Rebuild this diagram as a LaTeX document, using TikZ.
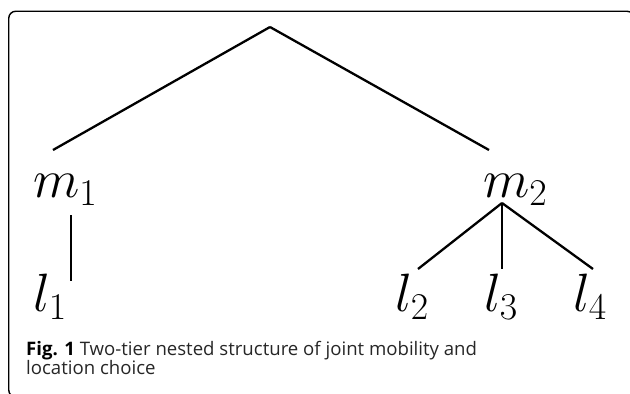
\RequirePackage{fix-cm}
\documentclass[tikz,border=0pt]{standalone}
\usepackage{fontspec}
\setsansfont{Open Sans}
\begin{document}
\begin{tikzpicture}[x=1pt,y=-1pt,
  edge/.style={line width=2.3pt},
  lbl/.style={inner sep=0pt, anchor=base west, font=\fontsize{54}{60}\selectfont},
  captext/.style={inner sep=0pt, anchor=base west, text=black!85, font=\sffamily\fontsize{18.6}{20}\selectfont}]
\useasboundingbox (0,0) rectangle (630,394);
\begin{scope}
\clip (0,0) rectangle (630,394);
\draw[line width=1.4pt, rounded corners=7pt] (8.75,11.25) rectangle (634,397);
\end{scope}
% labels
\node[lbl] (m1) at (33,197) {$m_1$};
\node[lbl] (m2) at (483,197) {$m_2$};
\node[lbl] (l1) at (33,311) {$l_1$};
\node[lbl] (l2) at (395,311) {$l_2$};
\node[lbl] (l3) at (484,311) {$l_3$};
\node[lbl] (l4) at (573,311) {$l_4$};
% connector ends
\coordinate (root) at (270,27);
\coordinate (m1top) at (53,150);
\coordinate (m2top) at (489,150);
\coordinate (m1bot) at (71,215);
\coordinate (l1top) at (71,281);
\coordinate (m2bot) at (502,203);
\coordinate (l2top) at (418,269);
\coordinate (l3top) at (502,269);
\coordinate (l4top) at (593,269);
\draw[edge] (root) -- (m1top);
\draw[edge] (root) -- (m2top);
\draw[edge] (m1bot) -- (l1top);
\draw[edge] (m2bot) -- (l2top);
\draw[edge] (m2bot) -- (l3top);
\draw[edge] (m2bot) -- (l4top);
% caption
\node[captext] (cap1) at (26,355) {\textcolor{black}{\textbf{Fig. 1}} Two-tier nested structure of joint mobility and};
\node[captext] (cap2) at (26,374) {location choice};
\end{tikzpicture}
\end{document}
